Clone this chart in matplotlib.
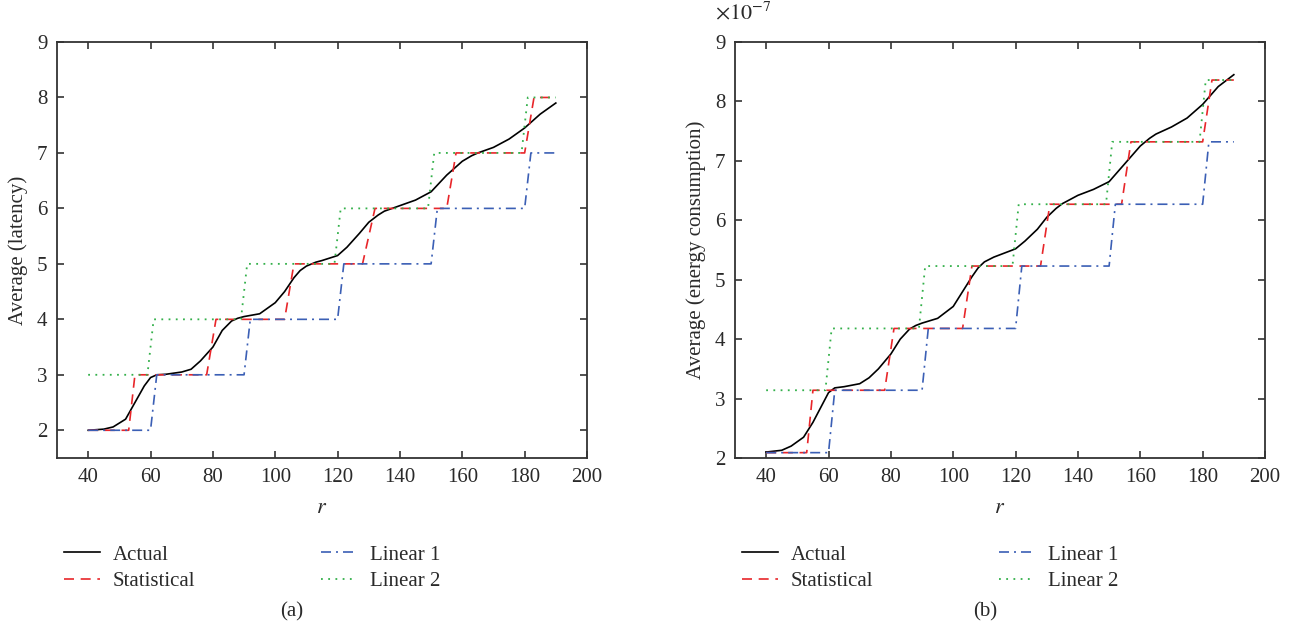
import matplotlib
matplotlib.use("Agg")
import matplotlib.pyplot as plt
import numpy as np

plt.rcParams['font.family'] = ['Liberation Serif', 'DejaVu Serif']
plt.rcParams['mathtext.fontset'] = 'stix'

# ---- data: latency (a) ----
act_x = [40, 45, 48, 52, 55, 58, 60, 62, 65, 70, 73, 76, 80, 83, 86, 88, 90, 95, 100, 103, 106, 108, 110,
         113, 115, 120, 123, 127, 130, 133, 135, 140, 145, 150, 155, 160, 163, 165, 170, 175, 180, 185, 190]
lat_actual = [2.0, 2.02, 2.06, 2.2, 2.5, 2.8, 2.95, 3.0, 3.01, 3.05, 3.1, 3.25, 3.5, 3.8, 3.97, 4.02, 4.05,
              4.1, 4.3, 4.5, 4.75, 4.88, 4.96, 5.03, 5.06, 5.15, 5.3, 5.55, 5.75, 5.88, 5.95, 6.05, 6.15,
              6.3, 6.6, 6.85, 6.95, 7.0, 7.1, 7.25, 7.45, 7.7, 7.9]

stat_x = [40, 53, 55, 78, 81, 103, 106, 128, 132, 155, 158, 180, 183, 190]
lat_stat = [2, 2, 3, 3, 4, 4, 5, 5, 6, 6, 7, 7, 8, 8]

lin1_x = [40, 60, 62, 90, 92, 120, 122, 150, 152, 180, 182, 190]
lat_lin1 = [2, 2, 3, 3, 4, 4, 5, 5, 6, 6, 7, 7]

lin2_x = [40, 59, 61, 89, 91, 119, 121, 149, 151, 179, 181, 190]
lat_lin2 = [3, 3, 4, 4, 5, 5, 6, 6, 7, 7, 8, 8]

# ---- data: energy (b), in units of 1e-7 ----
en_actual = [2.1, 2.13, 2.2, 2.35, 2.6, 2.9, 3.1, 3.18, 3.2, 3.25, 3.35, 3.5, 3.75, 4.0, 4.17, 4.23, 4.27,
             4.35, 4.55, 4.8, 5.05, 5.2, 5.3, 5.38, 5.42, 5.52, 5.65, 5.85, 6.05, 6.2, 6.28, 6.42, 6.52,
             6.65, 6.95, 7.25, 7.38, 7.45, 7.57, 7.72, 7.95, 8.25, 8.45]
en_stat_x = [40, 53, 55, 78, 81, 103, 106, 128, 131, 154, 157, 180, 183, 190]
en_stat = [2.09, 2.09, 3.14, 3.14, 4.18, 4.18, 5.23, 5.23, 6.27, 6.27, 7.32, 7.32, 8.36, 8.36]
en_lin1 = [2.09, 2.09, 3.14, 3.14, 4.18, 4.18, 5.23, 5.23, 6.27, 6.27, 7.32, 7.32]
en_lin2 = [3.14, 3.14, 4.18, 4.18, 5.23, 5.23, 6.27, 6.27, 7.32, 7.32, 8.36, 8.36]
EN_SCALE = 1e-7

labels = ["Actual", "Statistical", "Linear 1", "Linear 2"]
x_ticks = [40, 60, 80, 100, 120, 140, 160, 180, 200]

C_RED = '#e8262a'
C_BLUE = '#3b5fb5'
C_GREEN = '#33b04a'
TXT = '#2a2a2a'

W, H = 1301, 634
fig = plt.figure(figsize=(W / 100, H / 100), dpi=100)

def fx(px):
    return px / W

def fy(py):
    return 1 - py / H

ax1 = fig.add_axes([fx(57), fy(458), fx(587 - 57), fy(42) - fy(458)])
ax2 = fig.add_axes([fx(735), fy(458), fx(1265 - 735), fy(42) - fy(458)])

def draw(ax, ya, ys, sx, y1, y2, scale):
    la, = ax.plot(act_x, np.array(ya) * scale, color='black', lw=1.2, ls='-')
    ls_, = ax.plot(sx, np.array(ys) * scale, color=C_RED, lw=1.2, ls=(0, (6, 4)))
    l1, = ax.plot(lin1_x, np.array(y1) * scale, color=C_BLUE, lw=1.2, ls=(0, (6, 3, 1.2, 3)))
    l2, = ax.plot(lin2_x, np.array(y2) * scale, color=C_GREEN, lw=1.3, ls=(0, (1, 3)))
    return [la, ls_, l1, l2]

h1 = draw(ax1, lat_actual, lat_stat, stat_x, lat_lin1, lat_lin2, 1.0)
h2 = draw(ax2, en_actual, en_stat, en_stat_x, en_lin1, en_lin2, EN_SCALE)

ax1.set_xlim(30, 200)
ax1.set_ylim(1.5, 9)
ax1.set_yticks([2, 3, 4, 5, 6, 7, 8, 9])
ax2.set_xlim(30, 200)
ax2.set_ylim(2 * EN_SCALE, 9 * EN_SCALE)
ax2.set_yticks([v * EN_SCALE for v in [2, 3, 4, 5, 6, 7, 8, 9]])
ax2.set_yticklabels([str(v) for v in [2, 3, 4, 5, 6, 7, 8, 9]])

for ax in (ax1, ax2):
    ax.set_xticks(x_ticks)
    ax.tick_params(direction='in', top=True, right=True, length=5, width=1.2,
                   labelsize=15, pad=7, color='#333333', labelcolor=TXT)
    for s in ax.spines.values():
        s.set_linewidth(1.3)
        s.set_color('#333333')
    ax.set_xlabel('$r$', fontsize=16, color=TXT, labelpad=9)

ax1.set_ylabel('Average (latency)', fontsize=15, color=TXT, labelpad=6)
ax2.set_ylabel('Average (energy consumption)', fontsize=15, color=TXT, labelpad=6)
fig.text(fx(715), fy(13), r'$\times10^{-7}$', fontsize=16, color=TXT, ha='left', va='center')

def legend_col(handles, labs, x0):
    fig.legend(handles, labs, loc='upper left', bbox_to_anchor=(fx(x0), fy(545)),
               frameon=False, fontsize=15, borderpad=0, borderaxespad=0,
               handlelength=1.75, handletextpad=0.6, labelspacing=0.33,
               labelcolor=TXT)

legend_col(h1[:2], labels[:2], 64)
legend_col(h1[2:], labels[2:], 321)
legend_col(h2[:2], labels[:2], 742)
legend_col(h2[2:], labels[2:], 999)

fig.text(fx(292), fy(612), '(a)', fontsize=15, ha='center', va='center', color=TXT)
fig.text(fx(985), fy(612), '(b)', fontsize=15, ha='center', va='center', color=TXT)

fig.savefig('out.png', dpi=100)
